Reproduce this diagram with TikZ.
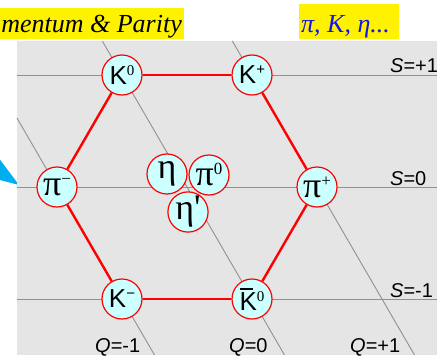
\documentclass[tikz,border=0pt]{standalone}
\usepackage{fontspec}
\setmainfont{Liberation Serif}
\setsansfont{Liberation Sans}
\definecolor{bggray}{RGB}{229,229,229}
\definecolor{gridgray}{RGB}{145,145,145}
\definecolor{nodefill}{RGB}{204,255,255}
\definecolor{ttlblue}{RGB}{20,20,235}
\newcommand\Kfont{\fontsize{26}{26}\selectfont\sffamily}
\newcommand\Gfont{\fontsize{36}{36}\selectfont\rmfamily}
\newcommand\upx[1]{\raisebox{9pt}{\fontsize{15}{15}\selectfont #1}}
\newcommand\upg[1]{\raisebox{11pt}{\fontsize{17}{17}\selectfont #1}}
\tikzset{
  meson/.style={circle, draw=red, line width=1.2pt, fill=nodefill, minimum size=40pt, inner sep=0pt},
  qsline/.style={draw=gridgray, line width=0.9pt},
  hexedge/.style={draw=red, line width=2.4pt},
  lbl/.style={font=\fontsize{20}{20}\selectfont\sffamily, inner sep=0pt, anchor=base west},
  ttl/.style={font=\fontsize{26}{26}\selectfont\rmfamily\itshape, inner sep=0pt}
}
\begin{document}
\begin{tikzpicture}[x=1pt,y=-1pt]
\useasboundingbox (0,0) rectangle (444,361);
% cyan arrow tip
\fill[cyan] (-2,157) -- (19,185) -- (0,180) -- cycle;
% background panel
\fill[bggray] (17,41) rectangle (437,355);
% grid line end points
\coordinate (sp1a) at (17,75);  \coordinate (sp1b) at (437,75);
\coordinate (s0a) at (17,187);  \coordinate (s0b) at (437,187);
\coordinate (sm1a) at (17,299); \coordinate (sm1b) at (437,299);
\coordinate (qm1a) at (17,118.1);  \coordinate (qm1b) at (154.5,355);
\coordinate (q0a) at (102.3,41);   \coordinate (q0b) at (284.5,355);
\coordinate (qp1a) at (232.3,41);  \coordinate (qp1b) at (414.5,355);
\draw[qsline] (sp1a) -- (sp1b);
\draw[qsline] (s0a) -- (s0b);
\draw[qsline] (sm1a) -- (sm1b);
\draw[qsline] (qm1a) -- (qm1b);
\draw[qsline] (q0a) -- (q0b);
\draw[qsline] (qp1a) -- (qp1b);
% mesons
\node[meson] (K0) at (122,75) {{\Kfont K}\upx{0}};
\node[meson] (Kp) at (252,75) {{\Kfont K}\upx{\sffamily +}};
\node[meson] (pim) at (57,187) {{\Gfont π}\upg{−}};
\node[meson] (pip) at (317,187) {{\Gfont π}\upg{+}};
\node[meson] (Km) at (122,299) {{\Kfont K}\upx{\sffamily −}};
\node[meson] (Kb0) at (252,299) {{\Kfont\rlap{\raisebox{20.5pt}{\rule{13pt}{1.6pt}}}K}\upx{0}};
\draw[hexedge] (K0) -- (Kp);
\draw[hexedge] (Kp) -- (pip);
\draw[hexedge] (pip) -- (Kb0);
\draw[hexedge] (Kb0) -- (Km);
\draw[hexedge] (Km) -- (pim);
\draw[hexedge] (pim) -- (K0);
\node[meson] (eta) at (167,174) {\Gfont η};
\node[meson] (pi0) at (209,175) {{\Gfont π}\upg{0}};
\node[meson] (etap) at (188,212) {\Gfont η\textquotesingle};
% labels
\node[lbl] (Sp1) at (390,72) {\textit{S}=+1};
\node[lbl] (S0) at (390,185.5) {\textit{S}=0};
\node[lbl] (Sm1) at (390,297) {\textit{S}=-1};
\node[lbl] (Qm1) at (95,352) {\textit{Q}=-1};
\node[lbl] (Q0) at (229,352) {\textit{Q}=0};
\node[lbl] (Qp1) at (350,352) {\textit{Q}=+1};
% titles
\fill[yellow] (0,8) rectangle (184,39);
\node[ttl, anchor=base east] (title1) at (182,33) {mentum \& Parity};
\fill[yellow] (299,4) rectangle (399,39);
\node[ttl, anchor=base west, text=ttlblue] (title2) at (301,33) {π, K, η...};
\end{tikzpicture}
\end{document}
